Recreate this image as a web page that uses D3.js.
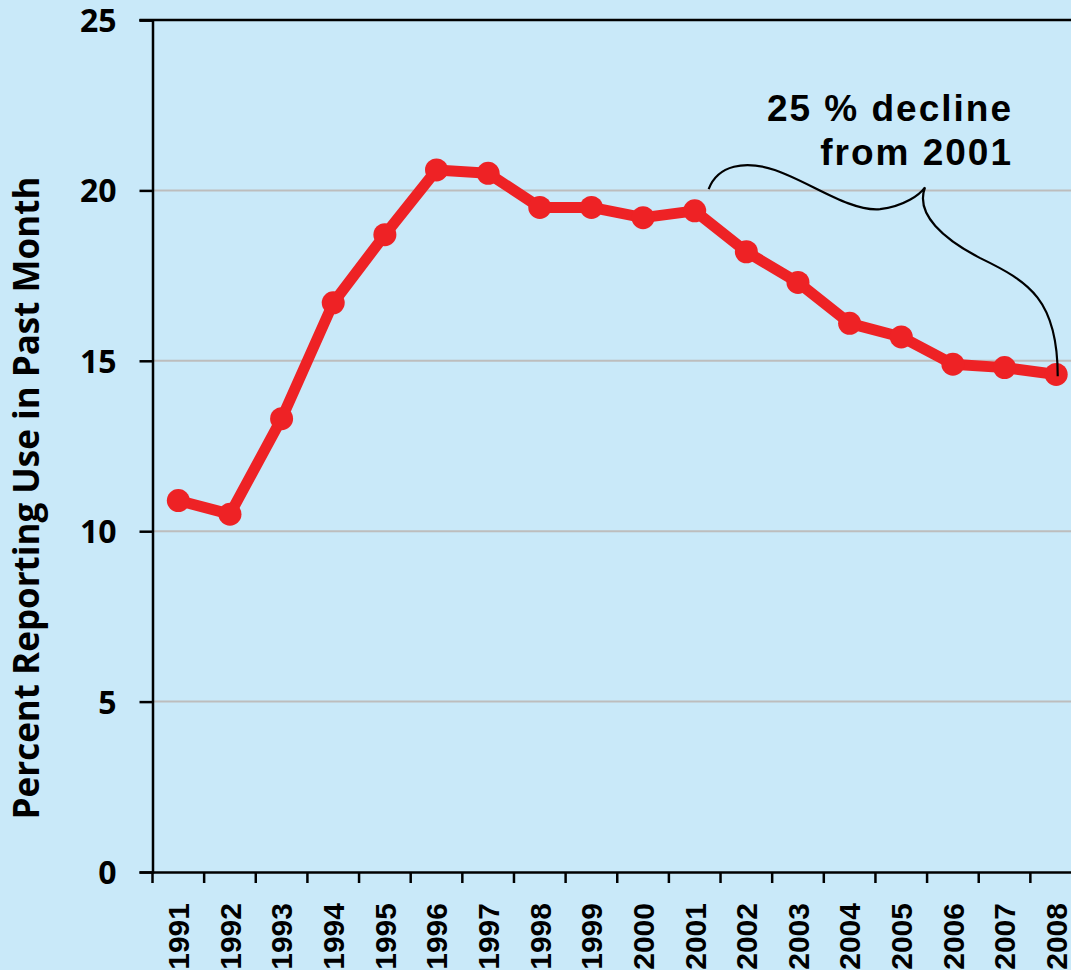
<!DOCTYPE html>
<html>
<head>
<meta charset="utf-8">
<script src="https://cdn.jsdelivr.net/npm/d3@7"></script>
<style>
  html, body { margin: 0; padding: 0; background: #C9E9F9; }
  svg { display: block; }
</style>
</head>
<body>
<svg id="chart" width="1071" height="970"></svg>
<script>
// ---- data ----
const years = [1991, 1992, 1993, 1994, 1995, 1996, 1997, 1998, 1999, 2000,
               2001, 2002, 2003, 2004, 2005, 2006, 2007, 2008];
const values = [10.9, 10.5, 13.3, 16.7, 18.7, 20.6, 20.5, 19.5, 19.5, 19.2,
                19.4, 18.2, 17.3, 16.1, 15.7, 14.9, 14.8, 14.6];
const yTicks = [0, 5, 10, 15, 20, 25];
const gridValues = [5, 10, 15, 20];
const yAxisTitle = "Percent Reporting Use in Past Month";
const noteLines = ["25 % decline", "from 2001"];
// brace annotation, in (year, value) units
const braceStart = [2001.27, 20.04];
const braceCurves = [
  [[2001.45, 20.75], [2001.97, 20.89], [2002.55, 20.60]],
  [[2003.23, 20.25], [2004.00, 19.37], [2004.59, 19.45]],
  [[2005.07, 19.54], [2005.36, 19.88], [2005.46, 20.09]],
  [[2005.26, 19.29], [2005.84, 18.56], [2006.52, 18.02]],
  [[2007.49, 17.31], [2008.03, 16.78], [2008.03, 14.55]]
];

(function () {
// ---- layout ----
const W = 1071, H = 970;
const mLeft = 152.5, mRight = 1082, mTop = 20, mBottom = 872;

const svg = d3.select("#chart");
svg.append("rect").attr("width", W).attr("height", H).attr("fill", "#C9E9F9");

const x = d3.scaleBand().domain(years).range([mLeft, mRight]).padding(0);
const y = d3.scaleLinear().domain([0, 25]).range([mBottom, mTop]);
const xc = d => x(d) + x.bandwidth() / 2;
const xLin = d3.scaleLinear().domain([years[0], years[years.length - 1]])
  .range([xc(years[0]), xc(years[years.length - 1])]);

// gridlines
svg.append("g").selectAll("line").data(gridValues).join("line")
  .attr("x1", mLeft).attr("x2", mRight)
  .attr("y1", d => y(d)).attr("y2", d => y(d))
  .attr("stroke", "#BDBDBD").attr("stroke-width", 2);

// top border at max
svg.append("line").attr("x1", mLeft - 13).attr("x2", mRight)
  .attr("y1", y(25)).attr("y2", y(25))
  .attr("stroke", "#000").attr("stroke-width", 2.5);

// y axis
const yAxis = svg.append("g").attr("transform", `translate(${mLeft},0)`)
  .call(d3.axisLeft(y).tickValues(yTicks).tickSize(13).tickPadding(23).tickFormat(d3.format("d")));
yAxis.select(".domain").attr("stroke", "#000").attr("stroke-width", 2.5);
yAxis.selectAll(".tick line").attr("stroke", "#000").attr("stroke-width", 2.5);
yAxis.selectAll(".tick text")
  .attr("font-family", "'Open Sans', Lato, sans-serif")
  .attr("font-weight", "bold").attr("font-size", 32).attr("fill", "#000")
  .attr("dy", "0.36em");

// x axis
const xAxis = svg.append("g").attr("transform", `translate(0,${mBottom})`)
  .call(d3.axisBottom(x).tickSize(0).tickFormat(d3.format("d")));
xAxis.select(".domain").attr("stroke", "#000").attr("stroke-width", 2.5);
xAxis.selectAll(".tick text")
  .attr("font-family", "'Liberation Sans', Arial, sans-serif")
  .attr("font-weight", "bold").attr("font-size", 30).attr("fill", "#000")
  .attr("transform", "rotate(-90)")
  .attr("text-anchor", "end")
  .attr("x", -31).attr("y", 0).attr("dy", "0.36em");
// boundary tick marks
svg.append("g").selectAll("line").data(years).join("line")
  .attr("x1", d => x(d)).attr("x2", d => x(d))
  .attr("y1", mBottom).attr("y2", mBottom + 11)
  .attr("stroke", "#000").attr("stroke-width", 2.5);

// y axis title
svg.append("text")
  .attr("transform", `translate(39,${(y(0) + y(25)) / 2 + 52}) rotate(-90)`)
  .attr("text-anchor", "middle")
  .attr("font-family", "'Open Sans', Lato, sans-serif")
  .attr("font-weight", "bold").attr("font-size", 35).attr("fill", "#000")
  .text(yAxisTitle);

// line
const line = d3.line().x((d, i) => xc(years[i])).y(d => y(d));
svg.append("path").datum(values)
  .attr("d", line).attr("fill", "none")
  .attr("stroke", "#EE2225").attr("stroke-width", 11)
  .attr("stroke-linejoin", "round");
svg.append("g").selectAll("circle").data(values).join("circle")
  .attr("cx", (d, i) => xc(years[i])).attr("cy", d => y(d))
  .attr("r", 11.5).attr("fill", "#EE2225");

// brace
const p = d3.path();
p.moveTo(xLin(braceStart[0]), y(braceStart[1]));
braceCurves.forEach(c => p.bezierCurveTo(
  xLin(c[0][0]), y(c[0][1]), xLin(c[1][0]), y(c[1][1]), xLin(c[2][0]), y(c[2][1])));
svg.append("path").attr("d", p.toString()).attr("fill", "none")
  .attr("stroke", "#000").attr("stroke-width", 2.2);

// note text
svg.append("g").selectAll("text").data(noteLines).join("text")
  .attr("x", 1013).attr("y", (d, i) => 121 + i * 44)
  .attr("text-anchor", "end")
  .attr("font-family", "'Liberation Sans', Arial, sans-serif")
  .attr("font-weight", "bold").attr("font-size", 37).attr("letter-spacing", 2)
  .attr("fill", "#000")
  .text(d => d);
})();
</script>
</body>
</html>
